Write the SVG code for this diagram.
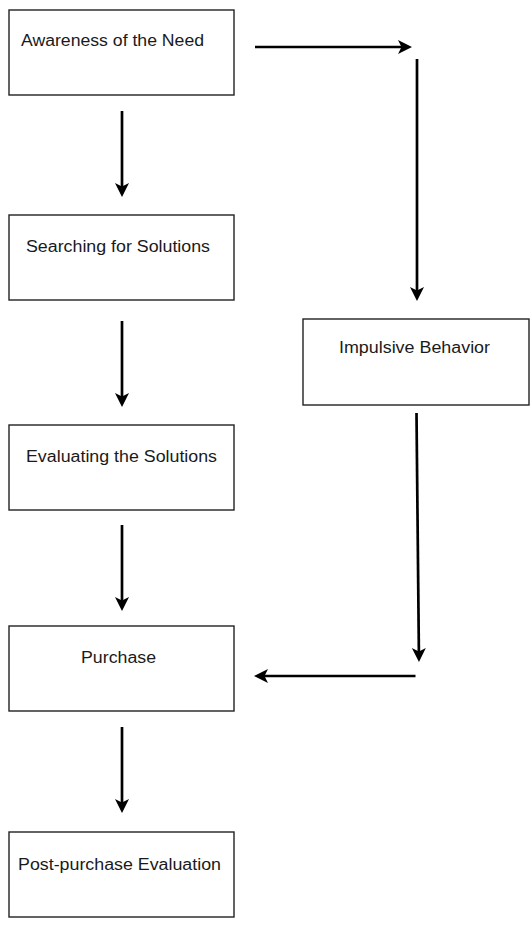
<svg xmlns="http://www.w3.org/2000/svg" width="532" height="946" viewBox="0 0 532 946">
  <style>
    .box { fill: #ffffff; stroke: #222222; stroke-width: 1.4; }
    .lbl { font-family: "Liberation Sans", Arial, Helvetica, sans-serif; font-size: 16px; fill: #1a1a1a; }
    .conn { stroke: #000000; stroke-width: 2.7; fill: none; }
  </style>
  <defs>
    <marker id="arrow" markerUnits="userSpaceOnUse" markerWidth="16" markerHeight="14" refX="6" refY="7" orient="auto" overflow="visible">
      <path d="M0,0 L14,7 L0,14 L3.5,7 Z" fill="#000000"/>
    </marker>
  </defs>
  <rect width="532" height="946" fill="#ffffff"/>

  <g id="node-awareness">
    <rect class="box" x="9" y="10" width="225" height="85"/>
    <text class="lbl" x="21" y="46" textLength="183" lengthAdjust="spacingAndGlyphs">Awareness of the Need</text>
  </g>
  <g id="node-searching">
    <rect class="box" x="9" y="215" width="225" height="85"/>
    <text class="lbl" x="26" y="252" textLength="184" lengthAdjust="spacingAndGlyphs">Searching for Solutions</text>
  </g>
  <g id="node-evaluating">
    <rect class="box" x="9" y="425" width="225" height="85"/>
    <text class="lbl" x="26" y="462" textLength="191" lengthAdjust="spacingAndGlyphs">Evaluating the Solutions</text>
  </g>
  <g id="node-purchase">
    <rect class="box" x="9" y="626" width="225" height="85"/>
    <text class="lbl" x="81" y="663" textLength="75" lengthAdjust="spacingAndGlyphs">Purchase</text>
  </g>
  <g id="node-post-purchase">
    <rect class="box" x="9" y="832" width="225" height="85"/>
    <text class="lbl" x="18" y="870" textLength="203" lengthAdjust="spacingAndGlyphs">Post-purchase Evaluation</text>
  </g>
  <g id="node-impulsive">
    <rect class="box" x="303" y="319" width="226" height="86"/>
    <text class="lbl" x="339" y="352.5" textLength="151" lengthAdjust="spacingAndGlyphs">Impulsive Behavior</text>
  </g>

  <g id="connectors">
    <line class="conn" x1="255" y1="47" x2="404" y2="47" marker-end="url(#arrow)"/>
    <line class="conn" x1="417" y1="59" x2="417" y2="293" marker-end="url(#arrow)"/>
    <line class="conn" x1="416.5" y1="413" x2="418.9" y2="654" marker-end="url(#arrow)"/>
    <line class="conn" x1="415.5" y1="676" x2="262" y2="676" marker-end="url(#arrow)"/>
    <line class="conn" x1="122" y1="111" x2="122" y2="189" marker-end="url(#arrow)"/>
    <line class="conn" x1="122" y1="321" x2="122" y2="399" marker-end="url(#arrow)"/>
    <line class="conn" x1="122" y1="525" x2="122" y2="603" marker-end="url(#arrow)"/>
    <line class="conn" x1="122" y1="727" x2="122" y2="805" marker-end="url(#arrow)"/>
  </g>
</svg>
